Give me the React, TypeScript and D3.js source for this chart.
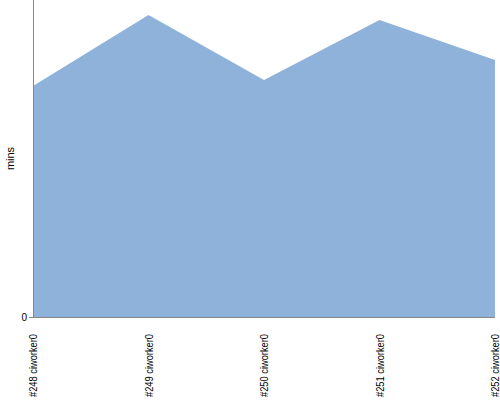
import React from "react";
import * as d3 from "d3";

const categories = ["#248 ciworker0", "#249 ciworker0", "#250 ciworker0", "#251 ciworker0", "#252 ciworker0"];
const values = [7.29, 9.53, 7.48, 9.37, 8.11];
const yTicks = [0];

export default function App() {
  const W = 500, H = 400;
  const left = 33, right = 495, top = 0, bottom = 317;
  const x = d3.scalePoint<string>().domain(categories).range([left, right]);
  const y = d3.scaleLinear().domain([0, 10]).range([bottom, top]);
  const area = d3.area<number>()
    .x((_, i) => x(categories[i]) as number)
    .y0(y(0))
    .y1((d) => y(d));
  return (
    <svg width={W} height={H} style={{ position: "absolute", left: 0, top: 0 }} fontFamily="Liberation Sans, Arial, sans-serif">
      <path d={area(values) || ""} fill="#8fb2da" />
      <line x1={left + 0.5} x2={left + 0.5} y1={top} y2={bottom} stroke="#888" />
      <line x1={left} x2={right} y1={bottom + 0.5} y2={bottom + 0.5} stroke="#888" />
      {yTicks.map((t) => (
        <g key={t}>
          <line x1={left - 4} x2={left} y1={y(t) + 0.5} y2={y(t) + 0.5} stroke="#888" />
          <text x={left - 6} y={y(t)} dy="0.35em" textAnchor="end" fontSize={10} fill="#000">{t}</text>
        </g>
      ))}
      <text transform={`translate(14,${(top + bottom) / 2}) rotate(-90)`} textAnchor="middle" fontSize={11} fill="#000">mins</text>
      {categories.map((c) => (
        <text key={c} transform={`translate(${(x(c) as number) + 4},${bottom + 17}) rotate(-90)`} textAnchor="end" fontSize={10.5} textLength={63} lengthAdjust="spacingAndGlyphs" fill="#000">{c}</text>
      ))}
    </svg>
  );
}
